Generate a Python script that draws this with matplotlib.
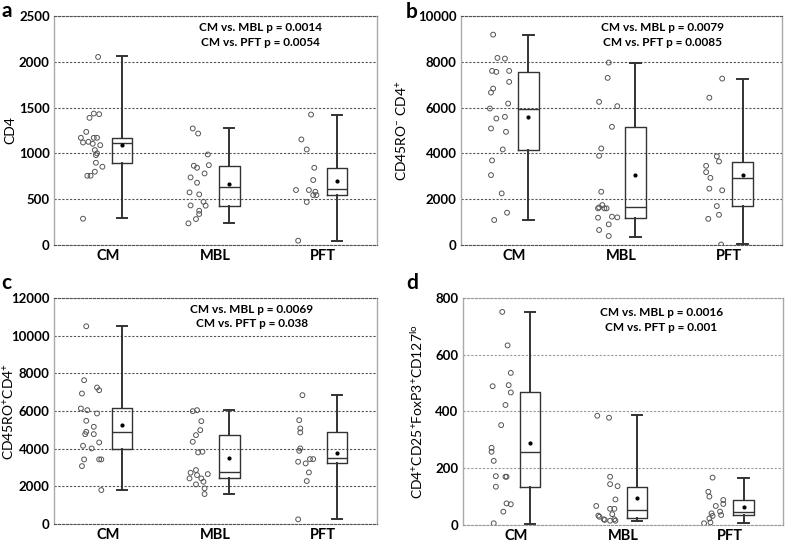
import matplotlib
matplotlib.use('Agg')
import matplotlib.pyplot as plt

plt.rcParams['font.family'] = ['Lato', 'DejaVu Sans']
plt.rcParams['mathtext.default'] = 'regular'

groups = ['CM', 'MBL', 'PFT']

# box statistics per panel: (min, q1, median, q3, max, mean) for CM, MBL, PFT
stats_a = [(291, 890, 1108, 1170, 2060, 1090),
           (236, 425, 629, 865, 1272, 665),
           (47, 545, 607, 836, 1424, 701)]
stats_b = [(1090, 4142, 5959, 7558, 9186, 5596),
           (363, 1192, 1642, 5131, 7965, 3052),
           (30, 1707, 2945, 3634, 7238, 3077)]
stats_c = [(1803, 3977, 4860, 6133, 10498, 5249),
           (1591, 2421, 2775, 4719, 6045, 3482),
           (247, 3252, 3482, 4860, 6840, 3782)]
stats_d = [(4, 135, 256, 467, 751, 290),
           (15, 23, 53, 135, 387, 96),
           (6, 35, 47, 88, 167, 62)]

# individual points (values) and their jitter offsets from the category tick
pts_a = [
    [2053, 1435, 1428, 1388, 1235, 1170, 1170, 1170, 1119, 1126, 1105, 1090, 1036,
     1000, 981, 898, 854, 800, 756, 756, 287],
    [1272, 1217, 988, 865, 843, 872, 781, 738, 680, 574, 552, 472, 429, 432, 374,
     338, 283, 236],
    [1424, 1152, 1043, 843, 709, 600, 600, 581, 545, 545, 469, 47],
]
jit_a = [
    [-0.09, -0.13, -0.08, -0.17, -0.20, -0.25, -0.13, -0.10, -0.23, -0.18, -0.14, -0.07,
     -0.12, -0.10, -0.11, -0.11, -0.05, -0.12, -0.19, -0.16, -0.23],
    [-0.21, -0.16, -0.07, -0.20, -0.17, -0.06, -0.10, -0.23, -0.17, -0.24, -0.15, -0.11,
     -0.09, -0.23, -0.15, -0.15, -0.18, -0.25],
    [-0.11, -0.20, -0.15, -0.08, -0.09, -0.13, -0.25, -0.07, -0.09, -0.06, -0.15, -0.23],
]
pts_b = [
    [9186, 8169, 8140, 7602, 7558, 7602, 6831, 6657, 7122, 5959, 6177, 5523, 5596,
     4942, 4172, 5087, 3692, 3052, 2253, 1410, 1090],
    [7965, 7297, 6250, 6061, 5160, 4215, 3895, 2326, 1744, 1642, 1599, 1599, 1599,
     1235, 1206, 1192, 901, 654, 392],
    [7267, 6432, 3868, 3648, 3458, 3180, 2930, 2461, 2388, 1700, 1318, 1143, 20],
]
jit_b = [
    [-0.20, -0.16, -0.09, -0.21, -0.17, -0.05, -0.20, -0.22, -0.05, -0.23, -0.06, -0.17,
     -0.09, -0.08, -0.11, -0.22, -0.21, -0.22, -0.12, -0.07, -0.19],
    [-0.12, -0.13, -0.21, -0.04, -0.09, -0.19, -0.21, -0.19, -0.18, -0.21, -0.14, -0.16,
     -0.22, -0.09, -0.04, -0.22, -0.12, -0.21, -0.12],
    [-0.06, -0.18, -0.11, -0.09, -0.21, -0.21, -0.17, -0.18, -0.06, -0.11, -0.09, -0.19,
     -0.07],
]
pts_c = [
    [10498, 7635, 7246, 7105, 6928, 6133, 6045, 5868, 5479, 5161, 4896, 4772, 4772,
     4330, 4153, 4012, 3429, 3429, 3429, 3075, 1803],
    [5991, 6045, 5461, 4984, 4719, 4365, 3800, 3835, 2863, 2722, 2598, 2651, 2421,
     2421, 2245, 2103, 1891, 1591],
    [6840, 5514, 5072, 4860, 4012, 3888, 3305, 3217, 3446, 3446, 2739, 2280, 247],
]
jit_c = [
    [-0.20, -0.22, -0.10, -0.08, -0.24, -0.25, -0.19, -0.10, -0.20, -0.13, -0.20, -0.21,
     -0.13, -0.08, -0.23, -0.15, -0.22, -0.08, -0.06, -0.24, -0.06],
    [-0.21, -0.17, -0.13, -0.14, -0.18, -0.21, -0.16, -0.12, -0.18, -0.23, -0.17, -0.07,
     -0.24, -0.13, -0.11, -0.18, -0.10, -0.10],
    [-0.19, -0.22, -0.21, -0.21, -0.21, -0.22, -0.23, -0.16, -0.12, -0.09, -0.13, -0.15,
     -0.23],
]
pts_d = [
    [751, 633, 536, 489, 493, 467, 423, 352, 272, 258, 226, 172, 170, 170, 135, 76, 73,
     47, 6],
    [385, 378, 170, 144, 137, 90, 67, 57, 57, 38, 33, 29, 20, 18, 15, 20, 15],
    [167, 117, 100, 88, 74, 67, 41, 47, 35, 23, 9, 6, 32],
]
jit_d = [
    [-0.13, -0.08, -0.05, -0.22, -0.07, -0.05, -0.10, -0.14, -0.23, -0.23, -0.21, -0.19,
     -0.10, -0.09, -0.19, -0.09, -0.05, -0.12, -0.21],
    [-0.24, -0.13, -0.12, -0.12, -0.05, -0.07, -0.25, -0.12, -0.08, -0.10, -0.23, -0.22,
     -0.18, -0.17, -0.12, -0.08, -0.07],
    [-0.16, -0.20, -0.19, -0.06, -0.06, -0.13, -0.17, -0.09, -0.08, -0.19, -0.18, -0.24,
     -0.16],
]

ylabels = ['CD4', 'CD45RO$^{-}$ CD4$^{+}$', 'CD45RO$^{+}$CD4$^{+}$',
           'CD4$^{+}$CD25$^{+}$FoxP3$^{+}$CD127$^{lo}$']
pvals = [('CM vs. MBL p = 0.0014', 'CM vs. PFT p = 0.0054'),
         ('CM vs. MBL p = 0.0079', 'CM vs. PFT p = 0.0085'),
         ('CM vs. MBL p = 0.0069', 'CM vs. PFT p = 0.038'),
         ('CM vs. MBL p = 0.0016', 'CM vs. PFT p = 0.001')]
ylims = [2500, 10000, 12000, 800]
ysteps = [500, 2000, 2000, 200]
letters = ['a', 'b', 'c', 'd']

panels = [
    (stats_a, pts_a, jit_a, [0.0686, 0.548, 0.410, 0.4225], (0.64, 0.948, 0.886)),
    (stats_b, pts_b, jit_b, [0.5858, 0.548, 0.408, 0.4225], (0.626, 0.948, 0.886)),
    (stats_c, pts_c, jit_c, [0.0686, 0.0332, 0.410, 0.417], (0.613, 0.951, 0.885)),
    (stats_d, pts_d, jit_d, [0.588, 0.0314, 0.407, 0.4188], (0.62, 0.934, 0.868)),
]
letter_pos = [(0.002, 0.980), (0.515, 0.978), (0.002, 0.478), (0.516, 0.478)]
label_x = [-0.118, -0.158, -0.115, -0.118]

ticks = [0.5, 1.5, 2.5]
dark = '#333333'

fig = plt.figure(figsize=(7.87, 5.42), dpi=100)

for i, (stats, pts, jit, rect, ptxt) in enumerate(panels):
    ax = fig.add_axes(rect)
    bstats = []
    for s in stats:
        bstats.append({'whislo': s[0], 'q1': s[1], 'med': s[2], 'q3': s[3],
                       'whishi': s[4], 'mean': s[5], 'fliers': []})
    ax.bxp(bstats, positions=[t + 0.13 for t in ticks], widths=0.19,
           showmeans=True, showfliers=False,
           boxprops=dict(color=dark, linewidth=1.0),
           medianprops=dict(color=dark, linewidth=1.0),
           whiskerprops=dict(color=dark, linewidth=1.4),
           capprops=dict(color=dark, linewidth=1.4),
           meanprops=dict(marker='o', markersize=2.0, markerfacecolor='black',
                          markeredgecolor='black'))
    for t, vals, offs in zip(ticks, pts, jit):
        ax.scatter([t + o for o in offs], vals, s=12, facecolors='none',
                   edgecolors='#555555', linewidths=0.7, zorder=3)

    ax.set_xlim(0, 3)
    ax.set_ylim(0, ylims[i])
    ax.set_yticks(range(0, ylims[i] + 1, ysteps[i]))
    ax.set_xticks(ticks)
    ax.set_xticklabels(groups, fontsize=10.5, fontweight='bold')
    for lab in ax.get_yticklabels():
        lab.set_fontsize(9.5)
        lab.set_fontweight('bold')
    ax.tick_params(length=0, pad=3)
    ax.yaxis.grid(True, linestyle=(0, (2, 1.5)),
                  color='#555555' if i < 3 else '#999999', linewidth=0.8)
    ax.set_axisbelow(True)
    for side in ['left', 'right']:
        ax.spines[side].set_color('#aaaaaa')
        ax.spines[side].set_linewidth(1.0)
    for side in ['top', 'bottom']:
        ax.spines[side].set_color('#555555' if i < 3 else '#999999')
        ax.spines[side].set_linestyle((0, (2, 1.5)))
        ax.spines[side].set_linewidth(0.8)
    ax.set_ylabel(ylabels[i], fontsize=10)
    ax.yaxis.set_label_coords(label_x[i], 0.5)

    ax.text(ptxt[0], ptxt[1], pvals[i][0], transform=ax.transAxes,
            ha='center', va='center', fontsize=8.5, fontweight='bold')
    ax.text(ptxt[0], ptxt[2], pvals[i][1], transform=ax.transAxes,
            ha='center', va='center', fontsize=8.5, fontweight='bold')

    fig.text(letter_pos[i][0], letter_pos[i][1], letters[i], fontsize=15,
             fontweight='bold', ha='left', va='center')

fig.savefig('out.png', dpi=100)
